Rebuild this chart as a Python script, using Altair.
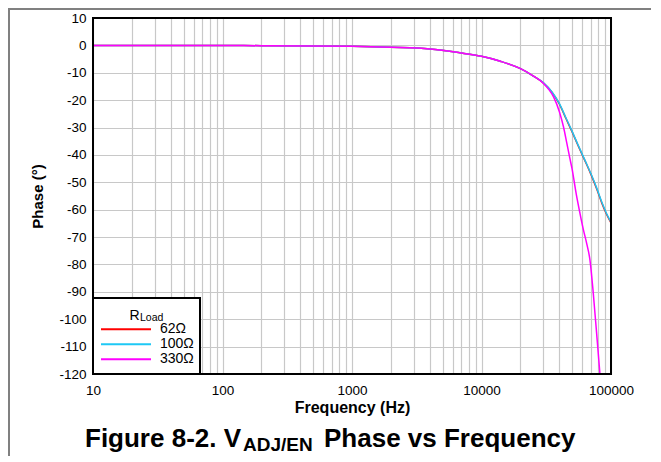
import altair as alt
import pandas as pd

FONT = "Liberation Sans, Arial, sans-serif"

# ---- data ----
series_names = ["62Ω", "100Ω", "330Ω"]
series_colors = ["#ff0000", "#1ec8f5", "#ff00ff"]

freq_common = [10, 20, 50, 100, 200, 500, 1000, 2000, 4000, 6800, 10000, 14000,
               20000, 25000, 30000, 35000, 40000, 45000, 50000, 55000, 60000,
               65000, 70000, 78000, 85000, 92000, 100000]
phase_62 = [0, 0, -0.05, -0.05, -0.1, -0.2, -0.35, -0.7, -1.3, -2.7, -4.0, -5.8,
            -8.5, -11.1, -13.7, -17.1, -21.5, -26.8, -31.5, -36.0, -40.0,
            -43.6, -47.1, -52.7, -57.6, -61.5, -64.8]
phase_100 = [0, 0, -0.05, -0.05, -0.1, -0.2, -0.35, -0.7, -1.3, -2.7, -4.0, -5.8,
             -8.5, -11.1, -13.6, -17.0, -21.3, -26.6, -31.3, -35.8, -39.8,
             -43.4, -46.9, -52.4, -57.3, -61.2, -64.5]
freq_330 = [10, 20, 50, 100, 200, 500, 1000, 2000, 4000, 6800, 10000, 14000,
            20000, 25000, 30000, 33000, 36000, 40000, 43000, 45500, 48000, 50000,
            54000, 57700, 61000, 65000, 68800, 73000, 77400, 82300]
phase_330 = [0, 0, -0.05, -0.05, -0.1, -0.2, -0.35, -0.7, -1.3, -2.7, -4.0, -5.8,
             -8.5, -11.1, -13.8, -16.0, -18.8, -24.3, -29.8, -35.5, -41.0, -45.0,
             -54.5, -61.5, -67.0, -72.5, -78.4, -90.6, -105.0, -120.5]

x_grid_values = [m * 10 ** e for e in range(1, 5) for m in range(1, 10)] + [100000]
x_label_values = ["10", "100", "1000", "10000", "100000"]
y_tick_values = list(range(-120, 11, 10))

title_parts = ["Figure 8-2. V", "ADJ/EN", "Phase vs Frequency"]
legend_title_parts = ["R", "Load"]
x_title = "Frequency (Hz)"
y_title = "Phase (°)"

rows = []
for f, p in zip(freq_common, phase_62):
    rows.append({"f": f, "phase": p, "R": series_names[0]})
for f, p in zip(freq_common, phase_100):
    rows.append({"f": f, "phase": p, "R": series_names[1]})
for f, p in zip(freq_330, phase_330):
    rows.append({"f": f, "phase": p, "R": series_names[2]})
df = pd.DataFrame(rows)

W, H = 518, 356

x_scale = alt.Scale(type="log", domain=[10, 100000], nice=False)
y_scale = alt.Scale(domain=[-120, 10], nice=False, zero=False)

label_expr = "indexof(" + str(x_label_values) + ", datum.label) >= 0 ? datum.label : ''"

x_axis = alt.Axis(values=x_grid_values, format="d", labelExpr=label_expr,
                  title=x_title, labelOverlap=False, labelFlush=False,
                  labelPadding=9, titleX=W / 2, titleY=38,
                  titleBaseline="alphabetic", titleAlign="center", titleFontSize=16)
y_axis = alt.Axis(values=y_tick_values, title=y_title, labelFlush=False,
                  labelExpr="'' + datum.value",
                  labelPadding=7, titleX=-56, titleY=H / 2, titleAngle=270,
                  titleAlign="center", titleBaseline="middle", titleFontSize=15)

lines = alt.Chart(df).mark_line(strokeWidth=1.5, clip=True, interpolate="monotone").encode(
    x=alt.X("f:Q", scale=x_scale, axis=x_axis),
    y=alt.Y("phase:Q", scale=y_scale, axis=y_axis),
    color=alt.Color("R:N", scale=alt.Scale(domain=series_names, range=series_colors),
                    legend=alt.Legend(orient="none", legendX=7, legendY=303.8,
                                      title=None, padding=0, symbolType="stroke",
                                      symbolSize=2500, symbolStrokeWidth=2,
                                      labelFontSize=14, labelOffset=8, clipHeight=15,
                                      rowPadding=0, labelFont=FONT, labelColor="black")),
)

frame_df = pd.DataFrame({"f": [10], "f2": [100000], "phase": [-120], "phase2": [10]})
frame = alt.Chart(frame_df).mark_rect(fill="transparent", stroke="black", strokeWidth=2).encode(
    x=alt.X("f:Q", scale=x_scale, axis=x_axis), x2="f2",
    y=alt.Y("phase:Q", scale=y_scale, axis=y_axis), y2="phase2",
)

one = pd.DataFrame({"a": [0]})
legend_box = alt.Chart(one).mark_rect(fill="white", stroke="black", strokeWidth=2).encode(
    x=alt.value(0), x2=alt.value(107), y=alt.value(280), y2=alt.value(356)
)


def txt(s, x, y, size, weight="normal"):
    return alt.Chart(pd.DataFrame({"t": [s]})).mark_text(
        align="left", baseline="alphabetic", fontSize=size, fontWeight=weight,
        font=FONT, color="black"
    ).encode(text="t:N", x=alt.value(x), y=alt.value(y))


t1 = txt(title_parts[0], -8, 429, 26, "bold")
t2 = txt(title_parts[1], 150, 433, 19, "bold")
t3 = txt(title_parts[2], 231, 429, 26, "bold")
l1 = txt(legend_title_parts[0], 36.5, 301.5, 14)
l2 = txt(legend_title_parts[1], 47, 303, 10.5)

border_top = alt.Chart(one).mark_rule(color="#808080", strokeWidth=2).encode(
    x=alt.value(-85), x2=alt.value(W + 40), y=alt.value(-9)
)
border_left = alt.Chart(one).mark_rule(color="#808080", strokeWidth=2).encode(
    x=alt.value(-84), y=alt.value(-10), y2=alt.value(H + 84)
)

chart = alt.layer(lines, frame, legend_box, t1, t2, t3, l1, l2, border_top, border_left).properties(
    width=W, height=H,
    autosize=alt.AutoSizeParams(type="none"),
    padding={"left": 85, "top": 10, "right": 40, "bottom": 82},
).configure_view(stroke="transparent").configure_axis(
    labelFont=FONT, labelFontSize=13.5, labelColor="black",
    titleFont=FONT, titleColor="black", titleFontWeight="bold",
    gridColor="#c8c8c8", gridWidth=1.2, ticks=False, domain=False,
)

chart.save("out.html", embed_options={"renderer": "svg", "actions": False})
